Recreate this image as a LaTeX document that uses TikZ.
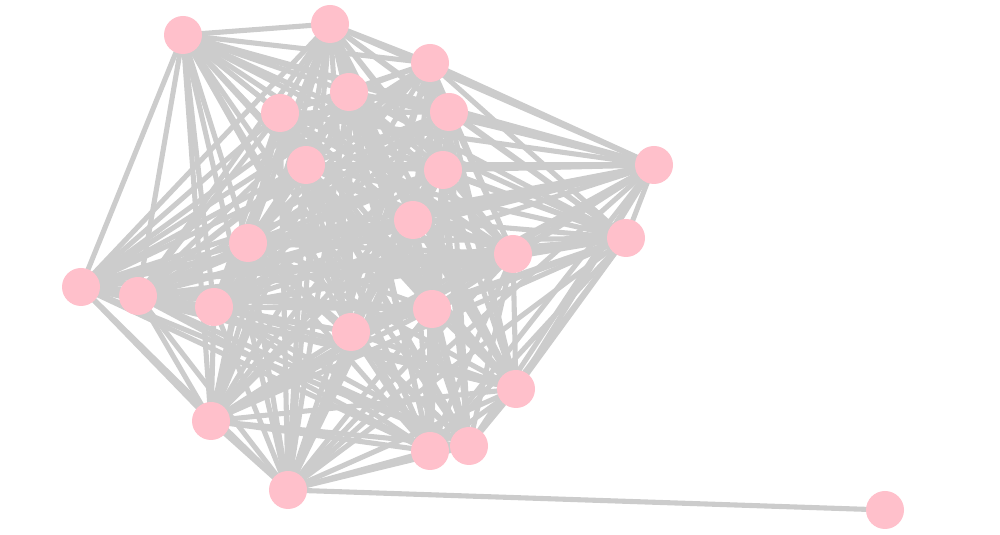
\documentclass[tikz,border=0pt]{standalone}
\usetikzlibrary{backgrounds}
\definecolor{vpink}{HTML}{FFC0CB}
\definecolor{egray}{HTML}{CCCCCC}
\tikzset{
  vtx/.style={circle, fill=vpink, minimum size=3.8mm, inner sep=0pt},
  edg/.style={draw=egray, line width=1.45pt}
}

\begin{document}
\begin{tikzpicture}
  \useasboundingbox (0,0) rectangle (10,5.35);
  % vertices
  \foreach \name/\x/\y in {1/1.83/5.00, 2/3.30/5.11, 3/4.30/4.72, 4/3.49/4.43,
      5/2.80/4.22, 6/4.49/4.23, 7/6.54/3.70, 8/3.06/3.70, 9/4.43/3.65,
      10/4.13/3.15, 11/6.26/2.97, 12/2.48/2.92, 13/5.13/2.81, 14/0.81/2.48,
      15/1.38/2.39, 16/2.14/2.28, 17/4.32/2.26, 18/3.51/2.03, 19/5.16/1.46,
      20/2.11/1.14, 21/4.30/0.84, 22/4.69/0.89, 23/2.88/0.45, 24/8.85/0.25}
    \node[vtx] (v\name) at (\x,\y) {};
  % edges: all pairs among v1..v23, plus the pendant v24
  \begin{pgfonlayer}{background}
    \foreach \i in {1,...,22} {
      \pgfmathtruncatemacro{\nxt}{\i+1}
      \foreach \j in {\nxt,...,23}
        \draw[edg] (v\i.center) -- (v\j.center);
    }
    \draw[edg] (v23.center) -- (v24.center);
  \end{pgfonlayer}
\end{tikzpicture}
\end{document}
